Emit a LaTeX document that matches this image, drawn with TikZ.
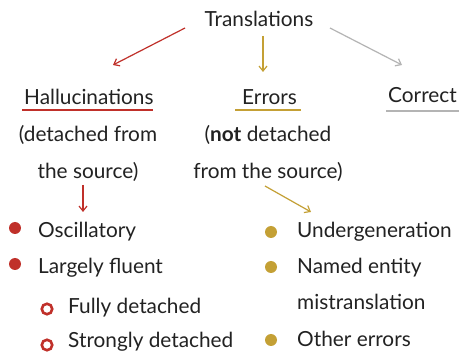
\documentclass[tikz,border=0pt]{standalone}
\usepackage{fontspec}
\setmainfont{Lato}
\usetikzlibrary{arrows.meta}
\definecolor{halred}{HTML}{C0302A}
\definecolor{errgold}{HTML}{C4A035}
\definecolor{okgray}{HTML}{B4B4B4}
\definecolor{ink}{HTML}{222222}
\tikzset{
  lbl/.style={inner sep=0pt, text=ink, font=\fontsize{20.8}{24}\selectfont},
  link/.style={line width=1.2pt, -{Straight Barb[length=5pt,width=8pt]}},
  uline/.style={line width=1.4pt},
  dot/.style={circle, inner sep=0pt, minimum size=12pt},
  ring/.style={circle, inner sep=0pt, minimum size=10.5pt, line width=2.6pt}
}
\begin{document}
\begin{tikzpicture}[x=1pt,y=-1pt]
\useasboundingbox[fill=white] (0,0) rectangle (459,353);

% top level
\node[lbl, anchor=base] (trans) at (259,27) {Translations};

% three categories
\node[lbl, anchor=base west] (hal) at (24,105) {Hallucinations};
\node[lbl, anchor=base west] (err) at (242,105) {Errors};
\node[lbl, anchor=base west] (cor) at (388,103) {Correct};

\node[lbl, anchor=base] (hal1) at (88,142) {(detached from};
\node[lbl, anchor=base] (hal2) at (88,179) {the source)};
\node[lbl, anchor=base] (err1) at (268,142) {(\textbf{not} detached};
\node[lbl, anchor=base] (err2) at (268,179) {from the source)};

% underlines
\coordinate (hu1) at (22,110); \coordinate (hu2) at (153,110);
\coordinate (eu1) at (235,110); \coordinate (eu2) at (301,110);
\coordinate (cu1) at (386,111); \coordinate (cu2) at (459,111);
\draw[uline, halred] (hu1) -- (hu2);
\draw[uline, errgold] (eu1) -- (eu2);
\draw[uline, okgray] (cu1) -- (cu2);

% arrows from the top
\coordinate (ra1) at (185,28); \coordinate (ra2) at (113,65);
\coordinate (ga1) at (263,36); \coordinate (ga2) at (263,72);
\coordinate (ya1) at (330,28); \coordinate (ya2) at (402,65);
\draw[link, halred] (ra1) -- (ra2);
\draw[link, errgold] (ga1) -- (ga2);
\draw[link, okgray] (ya1) -- (ya2);

% arrows to the lists
\coordinate (rb1) at (83,185); \coordinate (rb2) at (83,212);
\coordinate (gb1) at (265,186); \coordinate (gb2) at (311,212);
\draw[link, halred] (rb1) -- (rb2);
\draw[link, errgold] (gb1) -- (gb2);

% hallucination list
\node[dot, fill=halred] (b1) at (15,228) {};
\node[lbl, anchor=base west] (osc) at (38,238) {Oscillatory};
\node[dot, fill=halred] (b2) at (15,264) {};
\node[lbl, anchor=base west] (flu) at (38,274) {Largely fluent};
\node[ring, draw=halred] (c1) at (47,309) {};
\node[lbl, anchor=base west] (ful) at (68,313) {Fully detached};
\node[ring, draw=halred] (c2) at (47,345) {};
\node[lbl, anchor=base west] (str) at (68,348) {Strongly detached};

% error list
\node[dot, fill=errgold] (g1) at (271,232) {};
\node[lbl, anchor=base west] (und) at (297,238) {Undergeneration};
\node[dot, fill=errgold] (g2) at (271,267) {};
\node[lbl, anchor=base west] (nam) at (297,274) {Named entity};
\node[lbl, anchor=base west] (mis) at (297,310) {mistranslation};
\node[dot, fill=errgold] (g3) at (271,340) {};
\node[lbl, anchor=base west] (oth) at (297,347) {Other errors};
\end{tikzpicture}
\end{document}
